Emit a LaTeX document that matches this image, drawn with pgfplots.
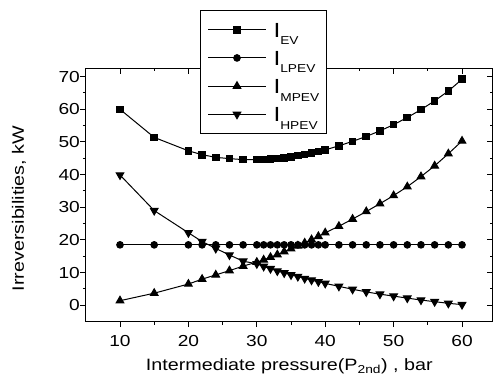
\documentclass[border=0pt]{standalone}
\usepackage{fontspec}
\setmainfont{Liberation Sans}[FakeStretch=1.2]
\usepackage{pgfplots}
\pgfplotsset{compat=1.18}
\usepackage{pgfplotstable}

\pgfplotstableread{
x EV LP MP HP
10 60.0 18.5 1.4 39.9
15 51.4 18.5 3.7 29.0
20 47.3 18.5 6.5 22.2
22 46.1 18.5 8.0 19.5
24 45.3 18.5 9.3 17.4
26 44.9 18.5 10.6 15.4
28 44.6 18.5 12.0 13.5
30 44.6 18.5 13.2 12.7
31 44.6 18.5 13.9 11.9
32 44.7 18.5 14.7 11.2
33 44.9 18.5 15.5 10.5
34 45.1 18.5 16.4 9.9
35 45.4 18.5 17.3 9.3
36 45.8 18.5 18.2 8.8
37 46.2 18.5 19.1 8.2
38 46.6 18.5 20.1 7.7
39 47.1 18.5 21.1 7.2
40 47.6 18.5 22.2 6.7
42 48.8 18.5 24.2 5.8
44 50.2 18.5 26.4 4.9
46 51.7 18.5 28.7 4.1
48 53.4 18.5 31.1 3.4
50 55.3 18.5 33.6 2.8
52 57.5 18.5 36.3 2.2
54 59.9 18.5 39.4 1.6
56 62.6 18.5 42.7 1.1
58 65.6 18.5 46.4 0.6
60 69.2 18.5 50.3 0.2
}\data

\newcommand{\Isub}[1]{{\fontsize{20.5}{20.5}\selectfont I}\raisebox{-7.6bp}{\fontsize{11.5}{11.5}\selectfont #1}}

\pgfplotsset{
  common/.style={
    scale only axis,
    width=407bp, height=253.1bp,
    xmin=5, xmax=64.5, ymin=-5, ymax=72.5,
    xtick={10,20,...,60}, ytick={0,10,...,70},
    minor x tick num=1, minor y tick num=1,
    major tick length=5.5bp, minor tick length=3bp,
    axis line style={line width=1.2bp},
    every tick/.style={line width=1bp, black},
    every minor tick/.style={line width=1bp, black},
  }
}

\begin{document}
\begin{tikzpicture}
\useasboundingbox (-85.8bp,-56.4bp) rectangle (411.2bp,321.6bp);
\begin{axis}[common,
  xtick pos=right, ytick pos=right, tick align=inside,
  xticklabels={}, yticklabels={},
]
\end{axis}
\begin{axis}[common,
  xtick pos=left, ytick pos=left, tick align=outside,
  /pgf/number format/assume math mode=true,
  tick label style={font=\fontsize{16}{16}\selectfont},
  yticklabel style={xshift=3bp},
  xticklabel style={yshift=-5bp},
  xlabel={Intermediate pressure(P\textsubscript{2nd}) , bar},
  ylabel={Irreversibilities, kW},
  label style={font=\fontsize{16.5}{16.5}\selectfont},
  xlabel style={at={(axis description cs:0.5,-0.195)}, anchor=base},
  ylabel style={at={(axis description cs:-0.152,0.447)}, anchor=base},
  legend style={at={(axis description cs:0.2806,1.231)}, anchor=north west,
    draw=black, line width=1bp, fill=white, inner xsep=7bp, inner ysep=5.1bp,
    row sep=0bp,
    nodes={inner sep=0pt, text height=21.55bp, text depth=6.65bp}},
  legend cell align=left,
  /tikz/every odd column/.append style={column sep=7bp},
  legend image code/.code={\draw[mark repeat=2,mark phase=2,#1] plot coordinates {(0bp,0bp) (29bp,0bp) (58bp,0bp)};},
]
\addplot[black, line width=1bp, mark=square*, mark size=3.3bp] table[x=x,y=EV] {\data};
\addlegendentry{\Isub{EV}}
\addplot[black, line width=1bp, mark=*, mark size=3.3bp] table[x=x,y=LP] {\data};
\addlegendentry{\Isub{LPEV}}
\addplot[black, line width=1bp, mark=triangle*, mark size=4.4bp] table[x=x,y=MP] {\data};
\addlegendentry{\Isub{MPEV}}
\addplot[black, line width=1bp, mark=triangle*, mark size=4.4bp, mark options={rotate=180}] table[x=x,y=HP] {\data};
\addlegendentry{\Isub{HPEV}}
\end{axis}
\end{tikzpicture}
\end{document}
